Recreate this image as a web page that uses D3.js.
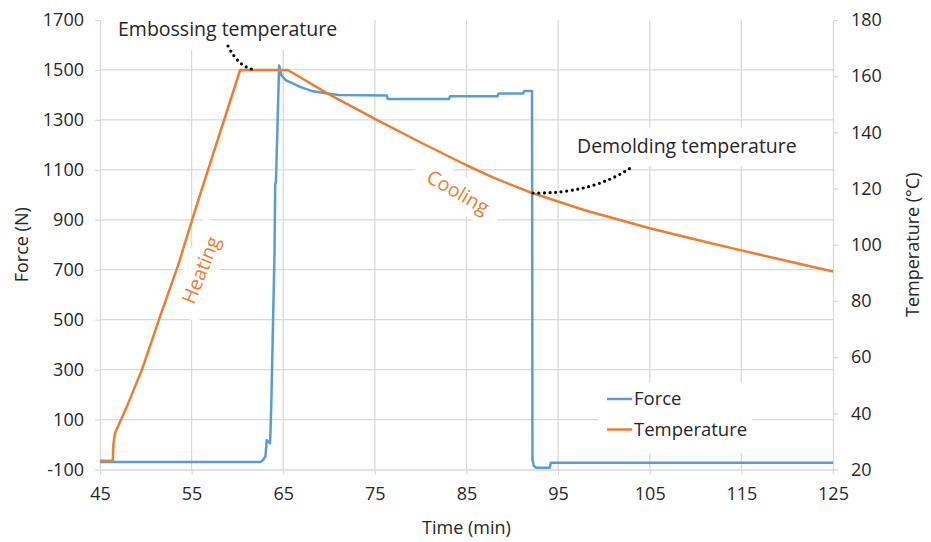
<!DOCTYPE html>
<html>
<head>
<meta charset="utf-8">
<script src="https://cdn.jsdelivr.net/npm/d3@7"></script>
<style>
  body { margin: 0; background: #fff; }
  svg { display: block; font-family: "Open Sans", sans-serif; }
</style>
</head>
<body>
<div id="chart"></div>
<script>
// ticks
var timeTicks = [45, 55, 65, 75, 85, 95, 105, 115, 125];
var forceTicks = [-100, 100, 300, 500, 700, 900, 1100, 1300, 1500, 1700];
var tempTicks = [20, 40, 60, 80, 100, 120, 140, 160, 180];

// force (N) vs time (min)
var forceSeries = [
  [45, -70], [62.5, -70], [62.8, -62], [63.05, -48], [63.2, 18], [63.55, 5],
  [63.6, 45], [63.7, 165], [64.05, 778], [64.12, 1045], [64.2, 1048],
  [64.55, 1518], [64.8, 1478], [65.3, 1458], [65.8, 1450], [66.9, 1431],
  [68.1, 1416], [69.3, 1409], [71, 1400], [76.3, 1398], [76.4, 1384],
  [83.1, 1384], [83.2, 1395], [88.4, 1395], [88.5, 1406], [91.2, 1406],
  [91.3, 1416], [92.15, 1416], [92.2, -60], [92.35, -85], [92.6, -93],
  [94.1, -93], [94.2, -73], [125, -73]
];

// temperature (degC) vs time (min)
var tempSeries = [
  [45, 23.1], [46.4, 23.1], [46.45, 28.7], [46.64, 32.9], [47.19, 37],
  [47.92, 42.3], [49.56, 55.4], [51.56, 74.5], [53.56, 93], [55.02, 108.5],
  [55.74, 116], [60.3, 162.2], [65.5, 162.2], [70, 153.5], [75, 144.8],
  [80, 136.4], [85, 128.3], [88, 123.8], [92, 118.6], [98, 112.2],
  [105, 105.9], [110, 101.9], [115, 98], [120, 94.2], [125, 90.5]
];

var W = 931, H = 542;
var plotL = 100, plotR = 833, plotT = 20, plotB = 469.5;
var gridColor = "#d9d9d9", textColor = "#262626";
var blue = "#5b9bd5", orange = "#ed7d31";

var svg = d3.select("#chart").append("svg")
    .attr("width", W)
    .attr("height", H);

svg.append("rect").attr("width", W).attr("height", H).attr("fill", "#fff");

var x = d3.scaleLinear().domain([45, 125]).range([plotL, plotR]);
var yF = d3.scaleLinear().domain([-100, 1700]).range([plotB, plotT]);
var yT = d3.scaleLinear().domain([20, 180]).range([plotB, plotT]);

var plain = function(d) { return String(d); };

// gridlines
var grid = svg.append("g").attr("stroke", gridColor).attr("stroke-width", 1.3);
grid.selectAll(".hg")
    .data(forceTicks.filter(function(d) { return d > -100 && d < 1700; }))
    .enter().append("line")
    .attr("x1", plotL).attr("x2", plotR)
    .attr("y1", function(d) { return yF(d); })
    .attr("y2", function(d) { return yF(d); });
grid.selectAll(".vg")
    .data(timeTicks.filter(function(d) { return d > 45 && d < 125; }))
    .enter().append("line")
    .attr("y1", plotT).attr("y2", plotB)
    .attr("x1", function(d) { return x(d); })
    .attr("x2", function(d) { return x(d); });

function styleAxis(g) {
  g.select(".domain").attr("stroke", gridColor).attr("stroke-width", 1.3);
  g.selectAll(".tick line").attr("stroke", gridColor).attr("stroke-width", 1.3);
  g.selectAll(".tick text").attr("fill", textColor)
    .style("font-size", "18px").style("font-family", "Open Sans");
}

svg.append("g")
    .attr("transform", "translate(" + plotL + ",0)")
    .call(d3.axisLeft(yF).tickValues(forceTicks).tickFormat(plain)
      .tickSize(5).tickSizeOuter(0).tickPadding(11))
    .call(styleAxis);

svg.append("g")
    .attr("transform", "translate(" + plotR + ",0)")
    .call(d3.axisRight(yT).tickValues(tempTicks).tickFormat(plain)
      .tickSize(5).tickSizeOuter(0).tickPadding(13))
    .call(styleAxis);

svg.append("g")
    .attr("transform", "translate(0," + plotB + ")")
    .call(d3.axisBottom(x).tickValues(timeTicks).tickFormat(plain)
      .tickSize(5).tickSizeOuter(0).tickPadding(13))
    .call(styleAxis);

// axis titles
svg.append("text")
    .attr("transform", "translate(28," + ((plotT + plotB) / 2) + ") rotate(-90)")
    .attr("text-anchor", "middle")
    .attr("fill", textColor).style("font-size", "18px")
    .text("Force (N)");
svg.append("text")
    .attr("transform", "translate(919," + ((plotT + plotB) / 2) + ") rotate(-90)")
    .attr("text-anchor", "middle")
    .attr("fill", textColor).style("font-size", "18px")
    .text("Temperature (°C)");
svg.append("text")
    .attr("x", (plotL + plotR) / 2).attr("y", 534)
    .attr("text-anchor", "middle")
    .attr("fill", textColor).style("font-size", "18px")
    .text("Time (min)");

// annotation backgrounds
var boxes = svg.append("g").attr("fill", "#fff");
boxes.append("rect").attr("x", 110).attr("y", 2).attr("width", 238).attr("height", 48);
boxes.append("rect").attr("x", 570).attr("y", 128).attr("width", 236).attr("height", 38);
boxes.append("rect").attr("x", -48).attr("y", -17).attr("width", 96).attr("height", 34)
    .attr("transform", "translate(458,192) rotate(30)");
boxes.append("rect").attr("x", -50).attr("y", -17).attr("width", 100).attr("height", 34)
    .attr("transform", "translate(201,270) rotate(-68)");

// series
svg.append("path")
    .datum(forceSeries)
    .attr("fill", "none")
    .attr("stroke", blue)
    .attr("stroke-width", 2.5)
    .attr("stroke-linejoin", "round")
    .attr("d", d3.line()
      .x(function(d) { return x(d[0]); })
      .y(function(d) { return yF(d[1]); }));

svg.append("path")
    .datum(tempSeries)
    .attr("fill", "none")
    .attr("stroke", orange)
    .attr("stroke-width", 2.5)
    .attr("stroke-linejoin", "round")
    .attr("d", d3.line()
      .x(function(d) { return x(d[0]); })
      .y(function(d) { return yT(d[1]); }));

// dotted leader curves
var dots = svg.append("g")
    .attr("fill", "none").attr("stroke", "#000")
    .attr("stroke-width", 3.2).attr("stroke-linecap", "round")
    .attr("stroke-dasharray", "0 5.6");
dots.append("path").attr("d", "M228,46 Q239,68 256,70");
dots.append("path").attr("d", "M533,193 Q592,194 632,167");

// annotation texts
svg.append("text").attr("x", 118).attr("y", 36)
    .attr("fill", textColor).style("font-size", "19.5px")
    .text("Embossing temperature");
svg.append("text").attr("x", 577).attr("y", 153)
    .attr("fill", textColor).style("font-size", "19.5px")
    .text("Demolding temperature");
svg.append("text")
    .attr("transform", "translate(458,192) rotate(30)")
    .attr("text-anchor", "middle").attr("dy", "0.35em")
    .attr("fill", orange).style("font-size", "19.5px")
    .text("Cooling");
svg.append("text")
    .attr("transform", "translate(201,270) rotate(-68)")
    .attr("text-anchor", "middle").attr("dy", "0.35em")
    .attr("fill", orange).style("font-size", "19.5px")
    .text("Heating");

// legend
var legend = svg.append("g");
legend.append("rect").attr("x", 598).attr("y", 383).attr("width", 154).attr("height", 70)
    .attr("fill", "#fff");
var legendItems = [["Force", blue], ["Temperature", orange]];
legendItems.forEach(function(item, i) {
  var yy = 399 + i * 30.5;
  legend.append("line")
      .attr("x1", 607).attr("x2", 632)
      .attr("y1", yy).attr("y2", yy)
      .attr("stroke", item[1]).attr("stroke-width", 2.5);
  legend.append("text")
      .attr("x", 634).attr("y", yy).attr("dy", "0.35em")
      .attr("fill", textColor).style("font-size", "18.5px")
      .text(item[0]);
});
</script>
</body>
</html>
